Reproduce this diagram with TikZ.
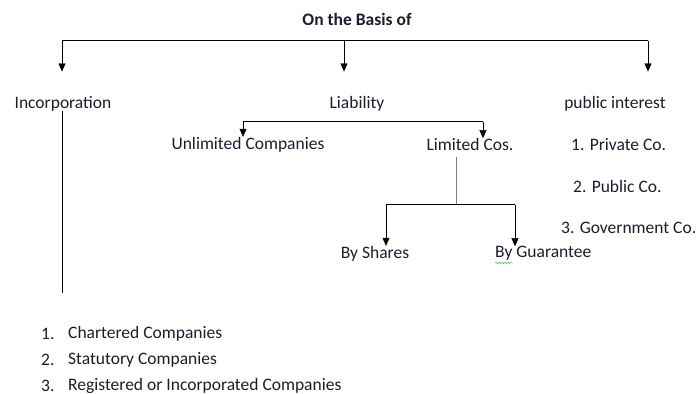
\documentclass[tikz,border=0pt]{standalone}
\usepackage{fontspec}
\setmainfont{Carlito}
\usetikzlibrary{arrows.meta}
\usetikzlibrary{decorations.pathmorphing}
\definecolor{ink}{RGB}{28,28,48}
\definecolor{squiggle}{RGB}{60,170,60}

\begin{document}
\begin{tikzpicture}[x=1pt,y=-1pt,
  every node/.style={font=\fontsize{17.5}{20}\selectfont,text=ink,inner sep=0pt,yshift=-1.5pt},
  arr/.style={-{Triangle[width=7pt,length=8pt]}}]
  \useasboundingbox (0,0) rectangle (697,394);
  % headings
  \node[font=\fontsize{17.5}{20}\selectfont\bfseries](basis) at (357,18) {On the Basis of};
  \node(incorp) at (63,102) {Incorporation};
  \node(liab) at (357,102) {Liability};
  \node(pub) at (615,102) {public interest};
  \node(unlim) at (248,143) {Unlimited Companies};
  \node(lim) at (470,143) {Limited Cos.};
  \node[anchor=west](priv) at (571,143) {1. Private Co.};
  \node[anchor=west](publ) at (573,185) {2. Public Co.};
  \node[anchor=west](govt) at (561,226) {3. Government Co.};
  \node(shares) at (375,252) {By Shares};
  \node[anchor=west](guar) at (495,252) {By Guarantee};
  \draw[squiggle,decorate,decoration={snake,amplitude=0.8pt,segment length=3pt}]
    (495,263) -- (513,263);
  % list
  \foreach \n/\txt [count=\i] in {332/Chartered Companies,358/Statutory Companies,384/Registered or Incorporated Companies}{
    \node[anchor=west,yshift=0pt](num\i) at (41,\n) {\i.};
    \node[anchor=west,yshift=0pt](item\i) at (68,\n) {\txt};
  }
  % top branch
  \coordinate (topL) at (62,39);
  \coordinate (topM) at (344,39);
  \coordinate (topR) at (648,39);
  \coordinate (tipL) at (62,70);
  \coordinate (tipM) at (344,70);
  \coordinate (tipR) at (648,70);
  \draw (topL) -- (topR);
  \draw[arr] (topL) -- (tipL);
  \draw[arr] (topM) -- (tipM);
  \draw[arr] (topR) -- (tipR);
  % liability branch
  \coordinate (liabL) at (243,120);
  \coordinate (liabR) at (483,120);
  \draw (liabL) -- (liabR);
  \draw[arr] (liabL) -- (unlim.north -| liabL);
  \draw[arr] (liabR) -- (lim.north -| liabR);
  % limited branch
  \coordinate (limTop) at (456,155);
  \coordinate (limJoin) at (456,203);
  \coordinate (limL) at (386,203);
  \coordinate (limR) at (515,203);
  \draw[gray] (limTop) -- (limJoin);
  \draw (limL) -- (limR);
  \draw[arr] (limL) -- (shares.north -| limL);
  \draw[arr] (limR) -- (guar.north -| limR);
  % incorporation line
  \coordinate (incEnd) at (62,291);
  \draw (incorp.south -| incEnd) -- (incEnd);
\end{tikzpicture}
\end{document}
